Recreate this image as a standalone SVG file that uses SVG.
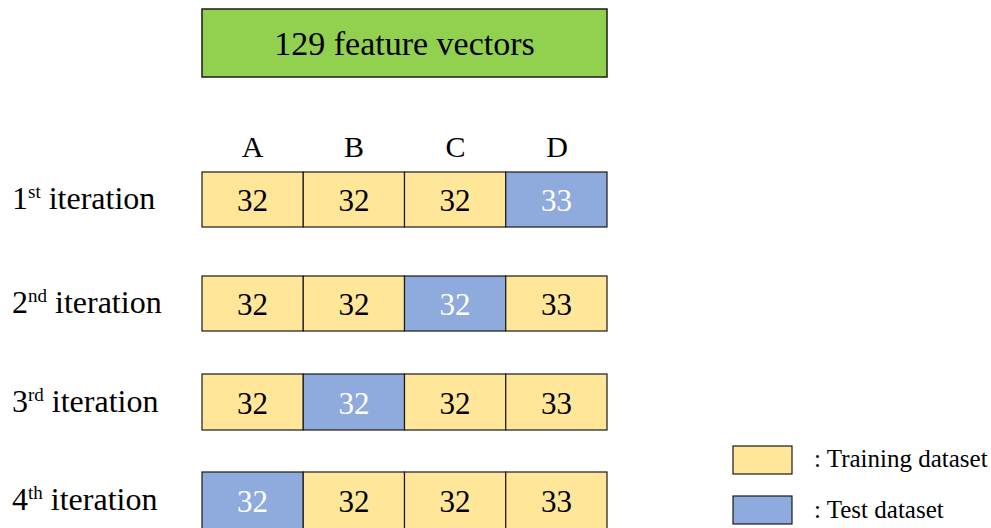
<svg xmlns="http://www.w3.org/2000/svg" width="991" height="528" viewBox="0 0 991 528">
<style>
.t{font-family:'Liberation Serif',serif;fill:#000}
.tr{fill:#FFE699;stroke:#1a1a1a;stroke-width:1.2}
.te{fill:#8FAADC;stroke:#1a1a1a;stroke-width:1.2}
.num{font-size:31px;text-anchor:middle}
.wt{fill:#fff}
.lbl{font-size:32px}
.sup{font-size:19px}
.col{font-size:30px;text-anchor:middle}
.leg{font-size:25px}
</style>
<rect width="991" height="528" fill="#fff"/>
<g id="header">
<rect x="202" y="9" width="405" height="68" fill="#92D050" stroke="#1a1a1a" stroke-width="1.5"/>
<text class="t" x="404.5" y="55" font-size="34" text-anchor="middle">129 feature vectors</text>
</g>
<g id="columns">
<text class="t col" x="252.5" y="157">A</text>
<text class="t col" x="354" y="157">B</text>
<text class="t col" x="455.5" y="157">C</text>
<text class="t col" x="557" y="157">D</text>
</g>
<g id="row1">
<text class="t lbl" x="12" y="209">1<tspan class="sup" dy="-11">st</tspan><tspan dy="11"> iteration</tspan></text>
<rect class="tr" x="202" y="172" width="101.25" height="55"/>
<rect class="tr" x="303.25" y="172" width="101.25" height="55"/>
<rect class="tr" x="404.5" y="172" width="101.25" height="55"/>
<rect class="te" x="505.75" y="172" width="101.25" height="55"/>
<text class="t num" x="252.6" y="211">32</text>
<text class="t num" x="353.9" y="211">32</text>
<text class="t num" x="455.1" y="211">32</text>
<text class="t num wt" x="556.4" y="211">33</text>
</g>
<g id="row2">
<text class="t lbl" x="12" y="313">2<tspan class="sup" dy="-11">nd</tspan><tspan dy="11"> iteration</tspan></text>
<rect class="tr" x="202" y="276" width="101.25" height="55"/>
<rect class="tr" x="303.25" y="276" width="101.25" height="55"/>
<rect class="te" x="404.5" y="276" width="101.25" height="55"/>
<rect class="tr" x="505.75" y="276" width="101.25" height="55"/>
<text class="t num" x="252.6" y="315">32</text>
<text class="t num" x="353.9" y="315">32</text>
<text class="t num wt" x="455.1" y="315">32</text>
<text class="t num" x="556.4" y="315">33</text>
</g>
<g id="row3">
<text class="t lbl" x="12" y="412">3<tspan class="sup" dy="-11">rd</tspan><tspan dy="11"> iteration</tspan></text>
<rect class="tr" x="202" y="374" width="101.25" height="56"/>
<rect class="te" x="303.25" y="374" width="101.25" height="56"/>
<rect class="tr" x="404.5" y="374" width="101.25" height="56"/>
<rect class="tr" x="505.75" y="374" width="101.25" height="56"/>
<text class="t num" x="252.6" y="414">32</text>
<text class="t num wt" x="353.9" y="414">32</text>
<text class="t num" x="455.1" y="414">32</text>
<text class="t num" x="556.4" y="414">33</text>
</g>
<g id="row4">
<text class="t lbl" x="12" y="510">4<tspan class="sup" dy="-11">th</tspan><tspan dy="11"> iteration</tspan></text>
<rect class="te" x="202" y="472" width="101.25" height="60"/>
<rect class="tr" x="303.25" y="472" width="101.25" height="60"/>
<rect class="tr" x="404.5" y="472" width="101.25" height="60"/>
<rect class="tr" x="505.75" y="472" width="101.25" height="60"/>
<text class="t num wt" x="252.6" y="512">32</text>
<text class="t num" x="353.9" y="512">32</text>
<text class="t num" x="455.1" y="512">32</text>
<text class="t num" x="556.4" y="512">33</text>
</g>
<g id="legend">
<rect class="tr" x="733" y="446" width="59" height="28"/>
<text class="t leg" x="814" y="467">: Training dataset</text>
<rect class="te" x="733" y="496" width="59" height="28"/>
<text class="t leg" x="814" y="518">: Test dataset</text>
</g>
</svg>
